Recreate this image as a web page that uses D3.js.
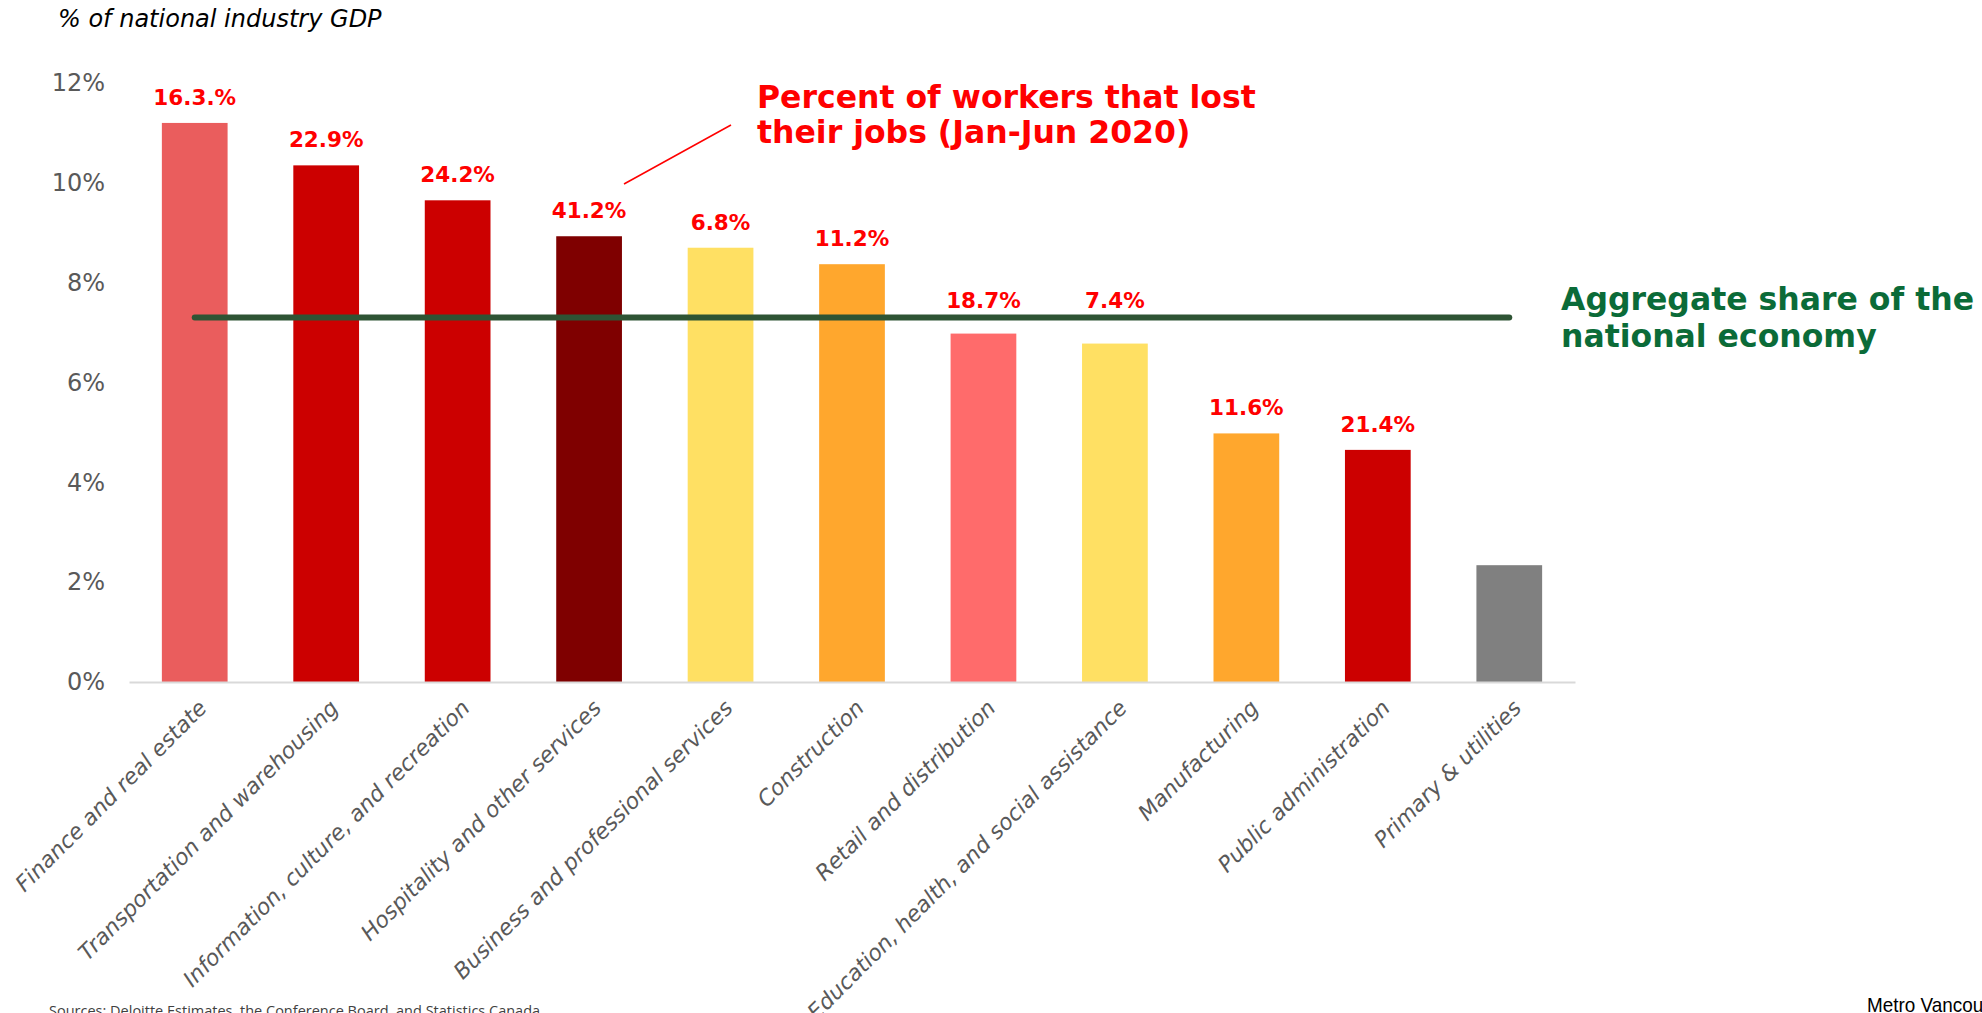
<!DOCTYPE html>
<html>
<head>
<meta charset="utf-8">
<script src="https://cdn.jsdelivr.net/npm/d3@7"></script>
<style>
  html, body { margin: 0; padding: 0; background: #fff; }
  svg { display: block; }
</style>
</head>
<body>
<svg id="chart" width="1982" height="1013"></svg>
<script>
// Industry share of national GDP (%) and share of workers who lost jobs
const categories = [
  "Finance and real estate",
  "Transportation and warehousing",
  "Information, culture, and recreation",
  "Hospitality and other services",
  "Business and professional services",
  "Construction",
  "Retail and distribution",
  "Education, health, and social assistance",
  "Manufacturing",
  "Public administration",
  "Primary & utilities"
];
const gdpShare = [11.2, 10.35, 9.65, 8.93, 8.7, 8.37, 6.98, 6.78, 4.98, 4.65, 2.34];
const jobLossLabels = ["16.3.%", "22.9%", "24.2%", "41.2%", "6.8%", "11.2%", "18.7%", "7.4%", "11.6%", "21.4%", ""];
const aggregateShare = 7.3;
const yTicks = [0, 2, 4, 6, 8, 10, 12];

const barColors = ["#EA5D5D", "#CC0000", "#CC0000", "#7F0000", "#FFE063", "#FFA72D",
                   "#FF6B6B", "#FFE063", "#FFA72D", "#CC0000", "#808080"];

const svg = d3.select("#chart");
const axisFont = "'DejaVu Sans', Verdana, sans-serif";

const x = d3.scaleBand()
  .domain(categories)
  .range([129, 1575])
  .paddingInner(0.5)
  .paddingOuter(0.25);

const y = d3.scaleLinear()
  .domain([0, 12])
  .range([682, 83]);

// y-axis title
svg.append("text")
  .attr("x", 58)
  .attr("y", 27)
  .attr("font-family", axisFont)
  .attr("font-style", "italic")
  .attr("font-size", 24)
  .attr("fill", "#000")
  .text("% of national industry GDP");

// y axis (labels only)
const yAxis = svg.append("g")
  .attr("transform", "translate(129,0)")
  .call(d3.axisLeft(y).tickValues(yTicks).tickSize(0).tickPadding(24).tickFormat(d => d + "%"));
yAxis.select(".domain").remove();
yAxis.selectAll("text")
  .attr("font-family", axisFont)
  .attr("font-size", 24)
  .attr("fill", "#595959");

// bars
svg.append("g").selectAll("rect")
  .data(categories)
  .join("rect")
  .attr("x", d => x(d))
  .attr("y", (d, i) => y(gdpShare[i]))
  .attr("width", x.bandwidth())
  .attr("height", (d, i) => y(0) - y(gdpShare[i]))
  .attr("fill", (d, i) => barColors[i]);

// x axis baseline and rotated category labels
const xAxis = svg.append("g")
  .attr("transform", `translate(0,${y(0)})`)
  .call(d3.axisBottom(x).tickSize(0).tickPadding(0));
xAxis.select(".domain")
  .attr("stroke", "#d9d9d9")
  .attr("stroke-width", 2);
xAxis.selectAll(".tick text")
  .attr("font-family", axisFont)
  .attr("font-style", "italic")
  .attr("font-size", 22)
  .attr("fill", "#595959")
  .attr("text-anchor", "end")
  .attr("dy", "0.35em")
  .attr("transform", "translate(8,22) rotate(-45)");

// aggregate share line, from first to last bar centre
const lineY = y(aggregateShare);
svg.append("line")
  .attr("x1", x(categories[0]) + x.bandwidth() / 2)
  .attr("x2", x(categories[categories.length - 1]) + x.bandwidth() / 2)
  .attr("y1", lineY)
  .attr("y2", lineY)
  .attr("stroke", "#2E5434")
  .attr("stroke-width", 6)
  .attr("stroke-linecap", "round");

// job-loss labels above bars, lifted clear of the aggregate line
svg.append("g").selectAll("text")
  .data(categories)
  .join("text")
  .attr("x", d => x(d) + x.bandwidth() / 2)
  .attr("y", (d, i) => {
    const base = y(gdpShare[i]) - 18;
    const overlapsLine = base > lineY - 10 && base < lineY + 24;
    return overlapsLine ? lineY - 10 : base;
  })
  .attr("text-anchor", "middle")
  .attr("font-family", axisFont)
  .attr("font-weight", "bold")
  .attr("font-size", 21.5)
  .attr("fill", "#FF0000")
  .text((d, i) => jobLossLabels[i]);

// annotation for the red labels
svg.append("line")
  .attr("x1", 624).attr("y1", 184)
  .attr("x2", 731).attr("y2", 125)
  .attr("stroke", "#FF0000")
  .attr("stroke-width", 1.5);

const redNote = svg.append("text")
  .attr("font-family", axisFont)
  .attr("font-weight", "bold")
  .attr("font-size", 31.5)
  .attr("fill", "#FF0000");
redNote.append("tspan").attr("x", 757).attr("y", 108).text("Percent of workers that lost");
redNote.append("tspan").attr("x", 757).attr("y", 143).text("their jobs (Jan-Jun 2020)");

// annotation for the aggregate line
const greenNote = svg.append("text")
  .attr("font-family", axisFont)
  .attr("font-weight", "bold")
  .attr("font-size", 31.5)
  .attr("fill", "#0B6B38");
greenNote.append("tspan").attr("x", 1561).attr("y", 310).text("Aggregate share of the");
greenNote.append("tspan").attr("x", 1561).attr("y", 347).text("national economy");

// footer
svg.append("text")
  .attr("x", 49)
  .attr("y", 1016)
  .attr("font-family", "'Open Sans', sans-serif")
  .attr("font-size", 14.5)
  .attr("fill", "#404040")
  .text("Sources: Deloitte Estimates, the Conference Board, and Statistics Canada");

svg.append("text")
  .attr("x", 1867)
  .attr("y", 1012)
  .attr("font-family", "'Liberation Sans Narrow', 'Liberation Sans', sans-serif")
  .attr("font-size", 21)
  .attr("transform", "translate(1867,0) scale(0.9,1) translate(-1867,0)")
  .attr("fill", "#000")
  .text("Metro Vancouver");
</script>
</body>
</html>
